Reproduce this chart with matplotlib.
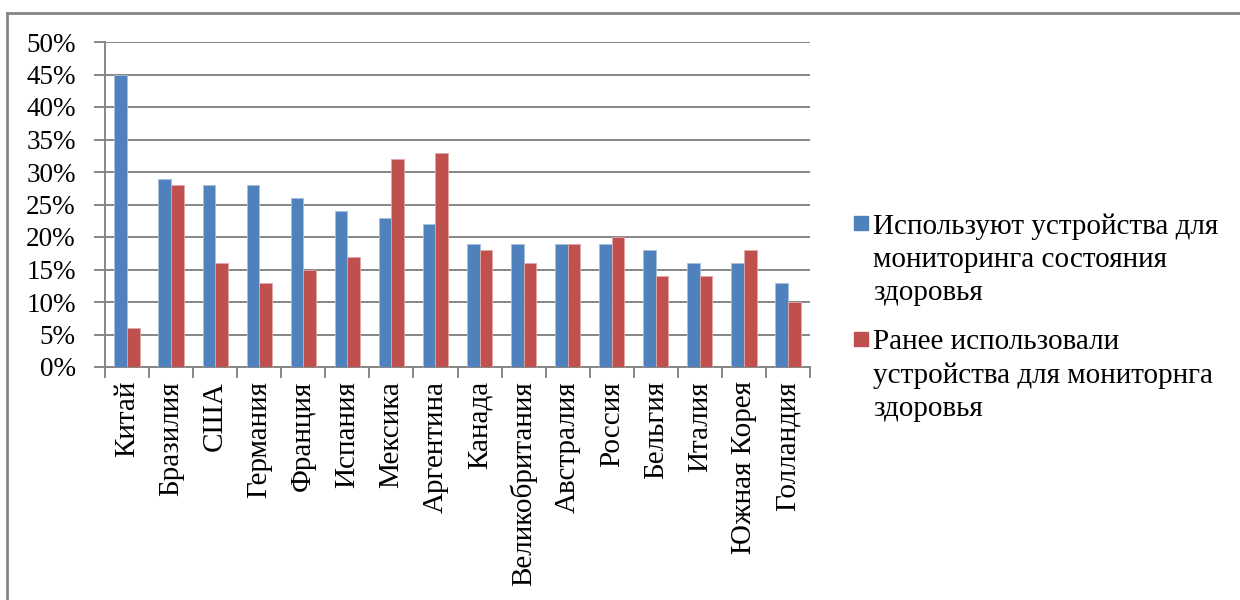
import numpy as np
import matplotlib.pyplot as plt
from matplotlib.lines import Line2D
from matplotlib.patches import Rectangle
from matplotlib.ticker import MultipleLocator, FuncFormatter
from matplotlib import font_manager

names = {f.name for f in font_manager.fontManager.ttflist}
serif = [n for n in ["Liberation Serif", "Times New Roman", "DejaVu Serif"] if n in names]
plt.rcParams['font.family'] = serif + ['DejaVu Sans']

countries = ["Китай", "Бразилия", "США", "Германия", "Франция", "Испания",
             "Мексика", "Аргентина", "Канада", "Великобритания", "Австралия",
             "Россия", "Бельгия", "Италия", "Южная Корея", "Голландия"]
use_now = [45, 29, 28, 28, 26, 24, 23, 22, 19, 19, 19, 19, 18, 16, 16, 13]
used_before = [6, 28, 16, 13, 15, 17, 32, 33, 18, 16, 19, 20, 14, 14, 18, 10]

series_labels = ["Используют устройства для\nмониторинга состояния\nздоровья",
                 "Ранее использовали\nустройства для мониторнга\nздоровья"]
series_colors = ["#4f81bd", "#c0504d"]

grid_col = "#868686"
W, H = 1240, 600

fig = plt.figure(figsize=(12.4, 6), dpi=100)
ax = fig.add_axes([105 / W, 1 - 367 / H, 705 / W, 325 / H])

x = np.arange(len(countries))
w = 0.286
ax.bar(x - w / 2, use_now, w, color=series_colors[0], edgecolor="#a7c0de",
       linewidth=0.6, zorder=3)
ax.bar(x + w / 2, used_before, w, color=series_colors[1], edgecolor="#e0a8a6",
       linewidth=0.6, zorder=3)

ax.set_xlim(-0.5, len(countries) - 0.5)
ax.set_ylim(0, 50)
ax.yaxis.set_major_locator(MultipleLocator(5))
ax.yaxis.set_major_formatter(FuncFormatter(lambda v, p: f"{int(v)}%"))
ax.grid(axis="y", color=grid_col, linewidth=1.4, zorder=0)

# category labels sit between the tick marks
ax.set_xticks(np.arange(-0.5, len(countries)))
ax.set_xticklabels([])
ax.set_xticks(x, minor=True)
ax.set_xticklabels(countries, minor=True, rotation=90, fontsize=21)
ax.tick_params(axis="x", which="major", length=8, color=grid_col, width=1.4)
ax.tick_params(axis="x", which="minor", length=0, pad=10)
ax.tick_params(axis="y", length=8, color=grid_col, width=1.4, labelsize=19.5, pad=13)

for side in ("top", "right"):
    ax.spines[side].set_visible(False)
for side in ("left", "bottom"):
    ax.spines[side].set_color(grid_col)
    ax.spines[side].set_linewidth(1.4)

# legend: square marker next to the first line of each wrapped label
legend_baselines = [235, 351]
for label, color, base in zip(series_labels, series_colors, legend_baselines):
    fig.add_artist(Rectangle((854 / W, 1 - (base - 5) / H), 14 / W, 14 / H,
                             transform=fig.transFigure, color=color))
    fig.text(873 / W, 1 - (base - 22) / H, label, fontsize=21, va="top",
             ha="left", linespacing=1.36)

# outer chart frame
fig.add_artist(Line2D([7 / W, 7 / W], [0, 1 - 13 / H], color=grid_col,
                      linewidth=2, transform=fig.transFigure))
fig.add_artist(Line2D([7 / W, 1], [1 - 13 / H, 1 - 13 / H], color=grid_col,
                      linewidth=2, transform=fig.transFigure))

fig.savefig("out.png", dpi=100)
